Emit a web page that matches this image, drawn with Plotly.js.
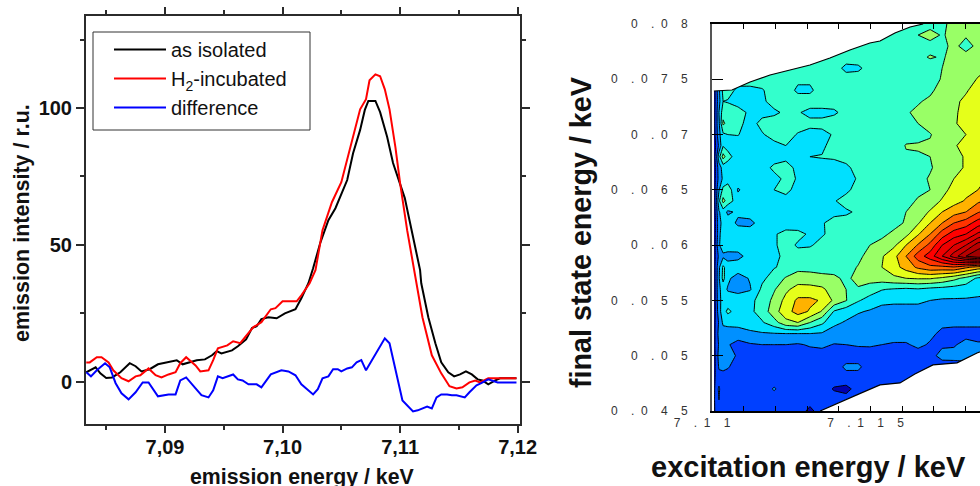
<!DOCTYPE html>
<html>
<head>
<meta charset="utf-8">
<script src="https://cdn.plot.ly/plotly-3.0.1.min.js"></script>
<style>html,body{margin:0;padding:0;background:#fff;overflow:hidden}#g{width:980px;height:486px}</style>
</head>
<body>
<div id="g"></div>
<script>
const xBlack=[7.0833,7.0841,7.0845,7.0850,7.0855,7.0862,7.0870,7.0875,7.0880,7.0887,7.0894,7.0903,7.0910,7.0915,7.0921,7.0927,7.0934,7.0940,7.0944,7.0948,7.0957,7.0962,7.0969,7.0974,7.0978,7.0982,7.0988,7.0995,7.1002,7.1011,7.1016,7.1022,7.1026,7.1032,7.1039,7.1045,7.1055,7.1060,7.1066,7.1070,7.1073,7.1079,7.1083,7.1089,7.1094,7.1100,7.1104,7.1108,7.1113,7.1117,7.1118,7.1124,7.1130,7.1135,7.1141,7.1146,7.1151,7.1156,7.1161,7.1166,7.1170,7.1175,7.1181,7.1185,7.1199];
const yBlack=[3.5,5.3,3.1,1.4,1.6,3.5,6.8,5.7,3.8,4.6,6.4,7.1,7.9,6.4,7.1,7.9,8.2,9.7,11.2,10.4,11.5,13.0,15.5,19.6,20.3,22.9,23.6,23.2,25.0,26.5,30.5,36.0,41.5,50.6,59.0,63.4,73.7,83.5,92.0,99.3,102.6,102.6,98.5,89.4,79.9,71.8,67.1,59.0,49.2,40.8,36.0,23.6,14.1,7.1,3.5,2.0,2.7,3.8,2.7,0.9,0.5,-0.9,0.5,1.3,1.3];
const xRed=[7.0833,7.0836,7.0842,7.0846,7.0852,7.0856,7.0863,7.0869,7.0875,7.0879,7.0886,7.0892,7.0897,7.0903,7.0909,7.0913,7.0918,7.0926,7.0930,7.0937,7.0941,7.0945,7.0953,7.0958,7.0964,7.0972,7.0975,7.0982,7.0990,7.0994,7.1000,7.1012,7.1016,7.1023,7.1028,7.1034,7.1042,7.1050,7.1057,7.1066,7.1071,7.1074,7.1079,7.1083,7.1087,7.1091,7.1096,7.1100,7.1106,7.1111,7.1114,7.1119,7.1127,7.1135,7.1142,7.1148,7.1153,7.1159,7.1164,7.1168,7.1175,7.1182,7.1199];
const yRed=[7.1,7.1,9.0,9.0,7.1,4.2,1.3,0.2,2.0,2.4,4.9,2.4,1.6,2.7,3.5,6.8,9.0,6.0,3.8,4.2,7.9,12.2,13.3,14.8,14.1,18.1,19.9,21.8,26.5,26.9,29.4,29.4,31.6,36.0,40.8,55.4,65.6,72.9,84.6,99.5,103.2,110.1,112.3,111.6,106.8,99.5,85.7,72.6,55.4,43.3,37.1,23.6,9.7,3.1,-1.6,-2.4,-2.0,-0.2,0.5,-0.2,1.3,1.3,1.3];
const xBlue=[7.0833,7.0837,7.0842,7.0849,7.0853,7.0858,7.0863,7.0869,7.0875,7.0881,7.0886,7.0894,7.0903,7.0909,7.0913,7.0918,7.0926,7.0931,7.0937,7.0941,7.0945,7.0949,7.0958,7.0962,7.0966,7.0971,7.0978,7.0982,7.0990,7.0999,7.1005,7.1011,7.1016,7.1026,7.1030,7.1034,7.1039,7.1043,7.1047,7.1050,7.1055,7.1059,7.1063,7.1067,7.1071,7.1087,7.1091,7.1102,7.1111,7.1115,7.1123,7.1127,7.1131,7.1135,7.1140,7.1144,7.1148,7.1155,7.1159,7.1165,7.1169,7.1175,7.1183,7.1199];
const yBlue=[3.5,2.0,4.2,6.8,5.3,-0.5,-4.2,-6.4,-3.8,-0.2,-0.2,-5.3,-4.6,-4.6,0.5,1.6,-2.4,-4.9,-5.7,-3.1,2.0,1.3,2.7,0.9,0.5,-0.9,-0.9,-2.0,2.7,4.2,3.8,2.4,-0.9,-4.6,-2.7,1.3,2.0,4.6,4.6,3.8,4.9,5.3,7.1,7.9,4.2,15.9,14.1,-6.8,-10.8,-10.4,-9.0,-9.7,-5.7,-4.6,-4.6,-4.9,-4.9,-5.7,-3.8,-1.3,-0.5,0.9,-0.2,-0.2];

const seriesNames=['as isolated','H<sub>2</sub>-incubated','difference'];
const leftXTickVals=[7.09,7.10,7.11,7.12];
const leftXTickText=['7,09','7,10','7,11','7,12'];
const leftYTickVals=[0,50,100];
const leftYTickText=['0','50','100'];

const excitation=[7.11006,7.11013,7.11022,7.11035,7.1105,7.11082,7.1112,7.11158,7.11196,7.11233,7.11271,7.11309,7.11347,7.11385,7.11423,7.11461,7.11498,7.11536,7.11574,7.11612,7.1165,7.11688,7.11726,7.11763,7.11801,7.11839,7.11877];
const finalState=[0.080,0.079,0.078,0.077,0.076,0.075,0.074,0.073,0.072,0.071,0.070,0.069,0.068,0.067,0.066,0.065,0.064,0.063,0.062,0.061,0.060,0.059,0.058,0.057,0.056,0.055,0.054,0.053,0.052,0.051,0.050,0.049,0.048,0.047,0.046,0.045];
const intensity=[
[4.5,4.5,4.5,4.5,4.5,4.5,4.5,4.5,4.5,4.5,4.5,4.5,4.5,4.5,4.5,4.5,4.5,4.5,4.5,4.5,4.5,4.6,4.8,5.3,5.4,5.5,5.5],
[4.5,4.5,4.5,4.5,4.5,4.5,4.5,4.5,4.5,4.5,4.5,4.5,4.5,4.5,4.5,4.5,4.5,4.5,4.5,4.5,5.0,5.4,4.9,5.3,5.1,5.5,5.5],
[4.5,4.5,4.5,4.5,4.5,4.5,4.5,4.5,4.5,4.5,4.5,4.5,4.5,4.5,4.5,4.5,4.5,4.5,4.5,4.5,4.5,4.6,4.8,5.2,4.7,5.2,5.5],
[4.5,4.5,4.5,4.5,4.5,4.5,4.5,4.5,4.5,4.5,4.5,4.5,4.5,4.5,4.5,4.5,4.5,4.5,4.5,4.6,4.7,5.1,4.9,5.3,5.3,5.6,5.7],
[4.5,4.5,4.5,4.5,4.5,4.5,4.5,4.5,4.5,4.5,4.5,4.5,4.5,4.5,3.7,3.8,4.4,4.5,4.5,4.5,4.5,4.4,5.0,5.5,5.6,5.8,6.0],
[4.5,4.5,4.5,4.5,4.5,4.5,4.5,4.5,4.5,4.5,4.2,4.2,4.5,4.5,4.5,4.5,4.5,4.5,4.5,4.5,4.5,4.5,5.1,5.5,5.7,6.05,6.4],
[0.5,1.5,2.8,4.3,4.5,3.7,3.7,3.9,4.5,4.5,3.8,3.8,4.5,4.5,4.5,4.5,4.5,4.5,4.5,4.5,4.6,4.8,5.4,5.6,5.9,6.4,6.6],
[0.5,1.4,2.7,4.0,3.9,3.6,3.6,3.8,4.4,4.5,4.5,4.5,4.5,4.5,4.5,4.5,4.5,4.5,4.5,4.7,4.9,5.2,5.6,5.8,6.2,6.5,6.7],
[0.6,1.5,3.0,4.6,4.7,4.4,3.8,3.7,3.8,4.2,4.1,3.7,3.7,3.8,4.4,4.5,4.5,4.5,4.5,4.9,5.2,5.4,5.6,5.9,6.2,6.6,6.8],
[0.6,1.6,2.8,5.2,4.6,4.3,3.6,4.3,4.5,4.5,4.5,4.3,4.3,4.6,4.5,4.5,4.5,4.5,4.5,4.9,5.0,5.3,5.5,5.9,6.3,6.7,6.9],
[0.5,1.5,2.7,3.8,4.0,4.05,3.5,3.9,4.4,4.5,3.9,3.6,3.7,4.1,4.5,4.5,4.5,4.5,4.5,4.7,4.7,4.95,5.4,5.7,6.0,6.6,6.9],
[0.3,1.2,2.2,3.9,3.6,3.5,3.5,3.5,3.7,4.0,3.7,3.7,3.8,4.4,4.5,4.5,4.5,4.5,4.5,5.05,5.1,5.1,5.5,5.9,6.3,6.7,6.9],
[0.5,1.6,3.6,5.4,4.4,3.4,3.4,3.5,3.6,3.8,3.9,4.0,4.05,4.1,4.5,4.5,4.5,4.5,4.6,4.9,4.9,5.0,5.5,5.7,6.1,6.7,7.0],
[0.4,1.3,2.5,3.4,3.4,3.4,3.5,3.6,4.2,4.3,3.8,3.6,3.7,3.7,3.7,4.5,4.5,4.5,4.5,4.6,4.6,4.9,5.4,5.7,6.1,6.7,6.9],
[0.3,1.4,2.3,3.2,3.5,3.5,3.5,3.5,3.7,4.2,3.95,3.5,3.6,3.6,3.6,4.1,4.5,4.5,4.5,4.6,4.7,5.1,5.5,6.0,6.4,6.8,7.1],
[0.4,1.6,2.9,4.3,4.6,2.9,3.5,3.6,4.0,4.3,3.6,3.6,3.9,3.7,3.7,4.5,4.5,4.5,4.5,4.6,4.8,5.0,5.7,6.3,6.7,7.0,7.5],
[0.5,1.7,3.8,5.3,4.6,3.4,3.6,3.5,3.5,3.6,3.6,3.6,3.7,3.9,4.5,4.5,4.5,4.5,4.5,4.7,5.1,5.5,6.1,6.6,7.1,7.8,8.3],
[0.4,1.5,2.9,3.5,2.8,3.2,3.5,3.5,3.5,3.5,3.6,3.7,3.7,3.7,3.8,4.2,4.5,4.5,4.7,5.0,5.5,6.1,7.0,7.6,8.0,8.9,9.5],
[0.3,1.3,2.7,3.3,3.5,2.8,2.7,3.5,3.5,3.5,3.6,3.7,3.9,4.4,4.5,4.5,4.5,4.5,4.7,5.1,5.9,7.0,8.0,9.0,9.5,10.5,11],
[0.3,1.4,2.6,3.9,3.6,3.6,3.6,3.6,3.9,4.3,4.2,3.9,3.9,4.3,4.5,4.5,4.7,4.8,5.2,5.7,6.9,8.0,9.5,10.5,11,12.2,13],
[0.4,1.5,2.9,3.5,3.6,3.5,3.5,3.6,3.9,4.3,3.9,3.9,4.3,4.5,4.5,4.6,5.0,5.3,5.8,7.0,8.1,9.3,11,12,13,14.5,15],
[0.4,1.4,2.2,2.8,2.6,2.7,3.4,3.7,3.9,4.1,4.3,4.5,4.5,4.6,4.8,4.8,5.3,5.9,6.7,8.0,9.5,10.5,12,13.5,15,15.8,15.8],
[0.5,1.5,2.8,4.2,3.5,3.6,3.7,3.8,3.95,4.2,4.7,4.7,4.6,4.6,4.7,5.05,5.6,6.0,6.6,7.4,8.2,8.7,8.7,8.9,8.2,7.6,7.4],
[0.5,1.5,2.9,4.3,3.2,2.5,3.1,3.8,4.4,5.1,5.5,5.4,5.3,5.2,4.8,5.3,5.4,5.5,5.8,6.0,6.1,6.1,5.8,5.3,4.7,3.8,3.6],
[0.4,1.5,2.8,3.4,2.9,2.7,2.9,4.2,4.9,5.8,6.4,6.4,6.2,5.5,5.0,4.9,4.5,4.05,3.9,3.8,3.9,3.7,3.6,3.5,3.4,3.2,3.1],
[0.4,1.5,2.7,3.4,3.5,3.5,3.8,4.3,5.3,6.3,7.2,7.2,6.9,5.8,5.05,4.1,3.6,3.3,3.2,3.2,3.2,3.0,2.9,2.9,2.9,2.9,2.9],
[0.3,1.4,2.6,3.6,4.2,3.6,3.8,4.4,5.6,6.6,7.4,6.9,5.9,3.9,3.4,3.1,2.9,2.6,2.6,2.6,2.6,2.5,2.4,2.5,2.5,2.5,2.5],
[0.4,1.5,2.1,3.2,3.3,3.3,3.5,3.9,4.6,5.7,6.0,5.0,4.2,3.2,2.9,2.6,2.5,2.5,2.4,2.4,2.4,2.3,2.2,2.2,2.2,2.2,2.2],
[0.5,1.5,2.3,2.5,2.5,2.6,2.8,2.9,2.95,3.0,3.0,3.0,2.9,2.6,2.5,2.4,2.4,2.4,2.4,2.4,2.3,2.2,1.8,1.7,1.7,1.7,1.7],
[0.5,1.5,2.1,2.4,2.1,1.6,1.9,2.0,2.0,2.0,1.9,2.1,2.2,1.95,2.0,2.1,2.1,2.0,1.9,1.9,2.2,1.9,1.9,1.9,2.3,2.1,2.1],
[0.4,1.5,2.3,2.6,2.6,1.8,1.6,1.6,1.6,1.6,1.6,1.6,1.6,1.6,1.5,1.5,1.6,1.6,1.6,1.6,1.6,1.8,2.2,2.3,2.4,2.2,2.2],
[0.4,1.4,2.1,2.3,2.1,1.5,1.5,1.5,1.5,1.5,1.5,1.5,1.5,1.5,2.2,2.2,1.5,1.5,1.5,1.5,1.6,1.7,1.7,1.6,1.6,1.6,1.6],
[0.5,1.4,1.7,1.5,1.5,1.5,1.5,1.5,1.5,1.5,1.5,1.5,1.5,1.5,1.6,1.6,1.5,1.5,1.5,1.5,1.5,1.5,1.5,1.5,1.5,1.5,1.5],
[0.6,1.7,2.1,1.5,1.5,1.5,1.5,1.5,2.1,1.5,1.5,1.5,1.5,0.9,0.7,1.4,1.5,1.5,1.5,1.5,1.5,1.5,1.5,1.5,1.5,1.5,1.5],
[0.7,1.7,2.0,1.5,1.5,1.5,1.5,1.5,1.5,1.5,1.5,1.3,1.5,1.5,1.4,1.5,1.5,1.5,1.5,1.5,1.5,1.5,1.5,1.5,1.5,1.5,1.5],
[0.6,1.6,1.4,1.3,1.3,1.3,1.4,1.4,1.4,1.4,1.4,0.8,1.4,1.4,1.4,1.4,1.4,1.4,1.4,1.4,1.4,1.4,1.4,1.4,1.4,1.4,1.4]
];
const bandColors=['#0000b0','#0040ff','#0090ff','#00e0ff','#33ffcc','#99ff66','#e5ff1a','#ffb200','#ff6a00','#ff3300','#ff0000','#ee0000','#dd0000','#cc0000','#b80000','#a00000'];

const upperEdgeX=[7.11006,7.11063,7.1112,7.11183,7.11246,7.11309,7.11372,7.11435,7.11498,7.1153,7.11577,7.11625,7.11666];
const upperEdgeY=[0.07394,0.07403,0.07476,0.07539,0.07584,0.07629,0.07693,0.07765,0.07828,0.07846,0.07919,0.07973,0.08];
const lowerEdgeX=[7.11341,7.11404,7.11457,7.1153,7.11593,7.1164,7.11697,7.11773,7.11836,7.11877];
const lowerEdgeY=[0.045,0.04582,0.04646,0.04736,0.04754,0.04835,0.04917,0.04935,0.05025,0.0507];

const rightYTickVals=[0.045,0.05,0.055,0.06,0.065,0.07,0.075,0.08];
const rightYTickText=['0 . 0 4 5','0 . 0 5','0 . 0 5 5','0 . 0 6','0 . 0 6 5','0 . 0 7','0 . 0 7 5','0 . 0 8'];
const rightXTickVals=[7.11,7.115];
const rightXTickText=['7 . 1 1','7 . 1 1 5'];
const rightXMinorVals=[7.111,7.112,7.113,7.114,7.116,7.117,7.118];

const sp=n=>'\u00a0'.repeat(n);
function spaced(s){
  const p=s.split(' ');let o='';
  for(let i=0;i<p.length;i++){
    o+=p[i];
    if(i<p.length-1){ o+= (p[i+1]==='.')?sp(4):(p[i]==='.'?sp(2):sp(4)); }
  }
  return o;
}
const W=980,H=486;
const FONT='"Liberation Sans", Arial, sans-serif';
const dk='#2b2b2b';

const traces=[
 {x:xBlack,y:yBlack,name:seriesNames[0],type:'scatter',mode:'lines',line:{color:'#000000',width:2},xaxis:'x',yaxis:'y'},
 {x:xRed,y:yRed,name:seriesNames[1],type:'scatter',mode:'lines',line:{color:'#ff0000',width:2},xaxis:'x',yaxis:'y'},
 {x:xBlue,y:yBlue,name:seriesNames[2],type:'scatter',mode:'lines',line:{color:'#0000ff',width:2},xaxis:'x',yaxis:'y'},
 {type:'contour',x:excitation,y:finalState.slice().reverse(),z:intensity.slice().reverse(),xaxis:'x2',yaxis:'y2',showscale:false,showlegend:false,
  contours:{start:1,end:15,size:1,coloring:'fill',showlines:true},line:{color:'#000',width:1,smoothing:0},
  colorscale:bandColors.map((c,i)=>[i/(bandColors.length-1),c]),hoverinfo:'skip'},
 {type:'scatter',mode:'none',fill:'toself',fillcolor:'#ffffff',showlegend:false,hoverinfo:'skip',xaxis:'x2',yaxis:'y2',
  x:upperEdgeX.concat([7.11,7.11]),y:upperEdgeY.concat([0.08,upperEdgeY[0]])},
 {type:'scatter',mode:'none',fill:'toself',fillcolor:'#ffffff',showlegend:false,hoverinfo:'skip',xaxis:'x2',yaxis:'y2',
  x:lowerEdgeX.concat([lowerEdgeX[lowerEdgeX.length-1]]),y:lowerEdgeY.concat([0.045])},
 {type:'scatter',mode:'lines',line:{color:'#000',width:1.2},showlegend:false,hoverinfo:'skip',xaxis:'x2',yaxis:'y2',x:upperEdgeX,y:upperEdgeY},
 {type:'scatter',mode:'lines',line:{color:'#000',width:1.2},showlegend:false,hoverinfo:'skip',xaxis:'x2',yaxis:'y2',x:lowerEdgeX,y:lowerEdgeY}
];

const layout={
 width:W,height:H,margin:{l:0,r:0,t:0,b:0,pad:0},paper_bgcolor:'#fff',plot_bgcolor:'#fff',
 font:{family:FONT,color:'#111'},
 showlegend:true,
 legend:{x:109/W,y:1-30/H,xanchor:'left',yanchor:'top',bgcolor:'rgba(0,0,0,0)',borderwidth:0,font:{size:20,family:FONT,color:'#111'},itemwidth:52,itemclick:false,itemdoubleclick:false},
 xaxis:{domain:[86/W,520/W],range:[7.08328,7.1202],anchor:'y',tickmode:'array',tickvals:leftXTickVals,ticktext:leftXTickText,
   tickfont:{size:20,family:FONT,color:'#111',weight:'bold'},ticks:'outside',ticklen:7,tickwidth:1.5,tickcolor:dk,ticklabelstandoff:-3,
   showline:true,linewidth:2,linecolor:dk,mirror:'ticks',showgrid:false,zeroline:false,
   minor:{tickmode:'array',tickvals:[7.085,7.095,7.105,7.115],ticks:'outside',ticklen:4,tickwidth:1.5,tickcolor:dk,showgrid:false},automargin:false},
 yaxis:{domain:[1-424/H,1-16/H],range:[-15.4,133.6],anchor:'x',tickmode:'array',tickvals:leftYTickVals,ticktext:leftYTickText,
   tickfont:{size:20,family:FONT,color:'#111',weight:'bold'},ticks:'outside',ticklen:8,tickwidth:1.5,tickcolor:dk,
   showline:true,linewidth:2,linecolor:dk,mirror:'ticks',showgrid:false,zeroline:false,
   minor:{tickmode:'array',tickvals:[25,75,125],ticks:'outside',ticklen:4,tickwidth:1.5,tickcolor:dk,showgrid:false},automargin:false},
 xaxis2:{domain:[712/W,1],range:[7.11,7.118454],anchor:'y2',tickmode:'array',tickvals:rightXTickVals,
   ticktext:rightXTickText.map((t,i)=>spaced(t)+(i===0?sp(6):sp(3))),
   tickfont:{size:12,family:FONT,color:'#333'},ticks:'inside',ticklen:5,tickwidth:1,tickcolor:'#000',
   minor:{tickmode:'array',tickvals:rightXMinorVals,ticks:'inside',ticklen:5,tickwidth:1,tickcolor:'#000',showgrid:false},
   showline:true,linewidth:1.5,linecolor:'#000',mirror:'ticks',showgrid:false,zeroline:false,automargin:false},
 yaxis2:{domain:[1-411/H,1-24/H],range:[0.045,0.08],anchor:'x2',tickmode:'array',tickvals:rightYTickVals,
   ticktext:rightYTickText.map(t=>spaced(t)+sp(6)),
   tickfont:{size:12,family:FONT,color:'#333'},ticks:'inside',ticklen:11,tickwidth:1,tickcolor:'#000',
   showline:true,linewidth:2,linecolor:'#555',mirror:false,showgrid:false,zeroline:false,automargin:false},
 annotations:[
  {text:'emission energy / keV',xref:'paper',yref:'paper',x:302/W,y:1-477/H,xanchor:'center',yanchor:'middle',showarrow:false,font:{size:21.3,family:FONT,color:'#111',weight:'bold'}},
  {text:'excitation energy / keV',xref:'paper',yref:'paper',x:808/W,y:1-467/H,xanchor:'center',yanchor:'middle',showarrow:false,font:{size:29,family:FONT,color:'#111',weight:'bold'}},
  {text:'final state energy / keV',xref:'paper',yref:'paper',x:581/W,y:1-233/H,xanchor:'center',yanchor:'middle',textangle:-90,showarrow:false,font:{size:28.7,family:FONT,color:'#111',weight:'bold'}},
  {text:'emission intensity / r.u.',xref:'paper',yref:'paper',x:22/W,y:1-223/H,xanchor:'center',yanchor:'middle',textangle:-90,showarrow:false,font:{size:21.5,family:FONT,color:'#111',weight:'bold'}}
 ],
 shapes:[{type:'rect',xref:'paper',yref:'paper',x0:93/W,x1:310/W,y0:1-130/H,y1:1-32/H,line:{color:'#333',width:1},fillcolor:'rgba(0,0,0,0)'}]
};
Plotly.newPlot('g',traces,layout,{displayModeBar:false,responsive:false});
</script>
</body>
</html>
